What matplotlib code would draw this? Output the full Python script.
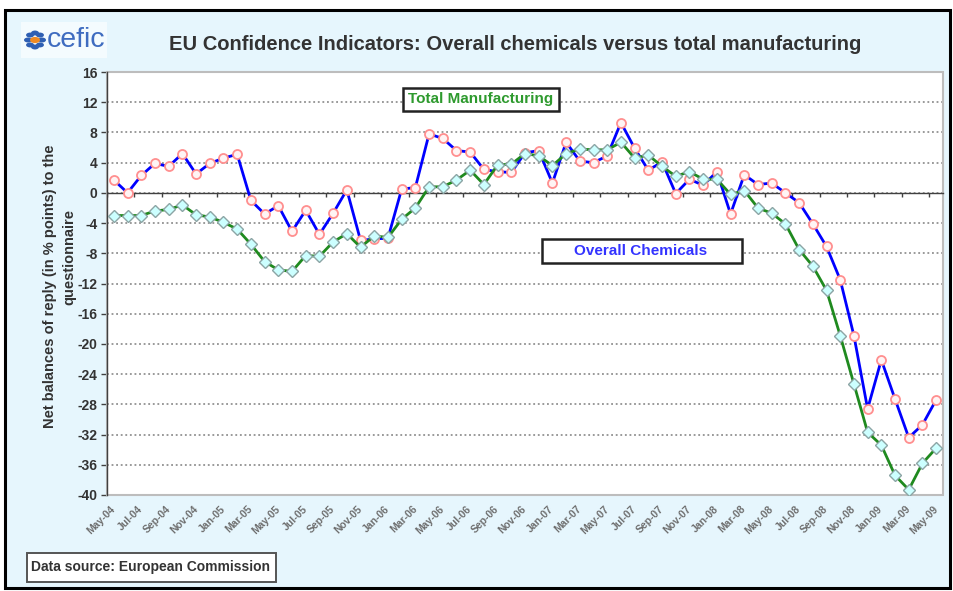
import numpy as np
import pandas as pd
import matplotlib
matplotlib.use("Agg")
import matplotlib.pyplot as plt
from matplotlib.patches import Rectangle, Circle

plt.rcParams['font.family'] = ['Liberation Sans', 'DejaVu Sans']

# ---------------- data ----------------
months = list(pd.period_range('2004-05', '2009-05', freq='M').strftime('%b-%y'))

chemicals = [1.7, 0.0, 2.3, 3.9, 3.5, 5.2, 2.5, 3.9, 4.6, 5.1,
             -1.0, -2.8, -1.7, -5.1, -2.3, -5.5, -2.7, 0.4, -6.3, -6.1,
             -6.0, 0.5, 0.7, 7.8, 7.2, 5.6, 5.4, 3.1, 2.8, 2.7,
             5.3, 5.6, 1.3, 6.7, 4.2, 4.0, 4.9, 9.3, 5.9, 3.0,
             4.1, -0.1, 1.8, 1.0, 2.8, -2.8, 2.4, 1.1, 1.3, 0.0,
             -1.3, -4.1, -7.1, -11.5, -18.9, -28.6, -22.1, -27.3, -32.4, -30.7,
             -27.4]

manufacturing = [-3.0, -3.0, -3.0, -2.4, -2.2, -1.6, -2.9, -3.2, -3.9, -4.8,
                 -6.8, -9.1, -10.2, -10.4, -8.3, -8.4, -6.5, -5.4, -7.2, -5.7,
                 -5.9, -3.5, -2.0, 0.8, 0.8, 1.7, 3.0, 1.1, 3.7, 3.8,
                 5.2, 4.9, 3.6, 5.2, 5.8, 5.7, 5.7, 6.7, 4.6, 5.0,
                 3.5, 2.2, 2.8, 1.8, 1.8, -0.2, 0.3, -2.0, -2.7, -4.1,
                 -7.5, -9.7, -12.9, -18.9, -25.3, -31.7, -33.4, -37.4, -39.3, -35.8,
                 -33.8]

yticks = list(range(-40, 17, 4))

title = "EU Confidence Indicators: Overall chemicals versus total manufacturing"
ylabel1 = "Net balances of reply (in % points) to the"
ylabel2 = "questionnaire"
source = "Data source: European Commission"

# ---------------- figure ----------------
W, H = 954, 591
fig = plt.figure(figsize=(W / 100, H / 100), dpi=100)
fig.patch.set_facecolor('white')


def fx(x):
    return x / W


def fy(y):
    return 1 - y / H


# outer panel
fig.patches.append(Rectangle((fx(5), fy(588)), fx(945), (588 - 10) / H,
                             transform=fig.transFigure, facecolor='#E6F6FD',
                             edgecolor='black', lw=2.2, zorder=-3))
# logo background
fig.patches.append(Rectangle((fx(21), fy(58)), fx(86), 36 / H,
                             transform=fig.transFigure, facecolor='#F4FBFE',
                             edgecolor='none', zorder=-2))
# flower logo
cx, cy = 35, 40
for k in range(8):
    a = 2 * np.pi * k / 8
    fig.patches.append(Circle((fx(cx + 7 * np.cos(a)), fy(cy + 7 * np.sin(a))),
                              radius=4.0 / W, transform=fig.transFigure,
                              facecolor='#2F5FB3', edgecolor='none', zorder=-1))
fig.patches.append(Circle((fx(cx), fy(cy)), radius=5.0 / W, transform=fig.transFigure,
                          facecolor='#F08A24', edgecolor='none', zorder=-0.5))
fig.text(fx(47), fy(40), "cefic", color='#3F6CC0', fontsize=20.5,
         ha='left', va='center', zorder=4)

# title
fig.text(fx(515), fy(45), title, fontsize=14.5, fontweight='bold',
         color='#333333', ha='center', va='center')

# axes
ax = fig.add_axes([fx(107), fy(495), (943 - 107) / W, (495 - 72) / H])
ax.set_facecolor('white')
x = np.arange(len(months))

ax.plot(x, chemicals, color='#0000FF', lw=2.0, marker='o', ms=6.5,
        mfc='#FFF4F4', mec='#FF8F8F', mew=1.3, zorder=3)
ax.plot(x, manufacturing, color='#1F8A1F', lw=2.0, marker='D', ms=5.8,
        mfc='#CCFFFF', mec='#8CA5A5', mew=1.0, zorder=4)

ax.set_xlim(-0.5, len(months) - 0.5)
ax.set_ylim(-40, 16)
ax.set_yticks(yticks)
ax.set_yticklabels([str(v) for v in yticks])
ax.yaxis.grid(True, linestyle=(0, (1.2, 1.8)), color='#7F7F7F', lw=1.1)
ax.set_axisbelow(True)

for s in ['top', 'right']:
    ax.spines[s].set_visible(False)
ax.spines['left'].set_color('#404040')
ax.spines['left'].set_linewidth(1.0)
ax.spines['bottom'].set_position(('data', 0))
ax.spines['bottom'].set_color('#404040')
ax.spines['bottom'].set_linewidth(1.0)
ax.spines['bottom'].set_zorder(2)

ax.set_xticks(np.arange(-0.5, len(months), 2))
ax.set_xticklabels([])
ax.tick_params(axis='x', direction='out', length=3, color='#404040', width=1)
ax.tick_params(axis='y', direction='out', length=4, color='#404040', width=1,
               labelsize=10, labelcolor='#333333', pad=3)
for t in ax.get_yticklabels():
    t.set_fontweight('bold')

# plot-area frame
ax.add_patch(Rectangle((0, 0), 1, 1, transform=ax.transAxes, fill=False,
                       edgecolor='#BDBDBD', lw=1.5, clip_on=False, zorder=1))

# category labels at the bottom
sec = ax.secondary_xaxis(0)
sec.set_xticks(x[::2])
sec.set_xticklabels(months[::2], rotation=45, ha='right', va='center',
                    rotation_mode='anchor', fontsize=7.5, fontweight='bold',
                    color='#6E6E6E')
sec.tick_params(length=0, pad=9)
sec.spines['bottom'].set_visible(False)

# y label
fig.text(fx(50), fy(286), ylabel1, rotation=90, fontsize=10.5, fontweight='bold',
         color='#333333', ha='center', va='center')
fig.text(fx(69), fy(257), ylabel2, rotation=90, fontsize=10.5, fontweight='bold',
         color='#333333', ha='center', va='center')

# series label boxes
fig.patches.append(Rectangle((fx(403), fy(111)), (559 - 403) / W, 23 / H,
                             transform=fig.transFigure, facecolor='white',
                             edgecolor='#222222', lw=1.8, zorder=5))
fig.text(fx(481), fy(99.5), "Total Manufacturing", fontsize=11, fontweight='bold',
         color='#2E9A2E', ha='center', va='center', zorder=6)

fig.patches.append(Rectangle((fx(542), fy(263)), (742 - 542) / W, 24 / H,
                             transform=fig.transFigure, facecolor='white',
                             edgecolor='#222222', lw=1.8, zorder=5))
fig.text(fx(641), fy(251), "Overall Chemicals", fontsize=11, fontweight='bold',
         color='#3333FF', ha='center', va='center', zorder=6)

# data source box
fig.patches.append(Rectangle((fx(27), fy(582)), (276 - 27) / W, 29 / H,
                             transform=fig.transFigure, facecolor='white',
                             edgecolor='#555555', lw=1.4, zorder=5))
fig.text(fx(31), fy(567.5), source, fontsize=10, fontweight='bold',
         color='#333333', ha='left', va='center', zorder=6)

fig.savefig('out.png', dpi=100)
